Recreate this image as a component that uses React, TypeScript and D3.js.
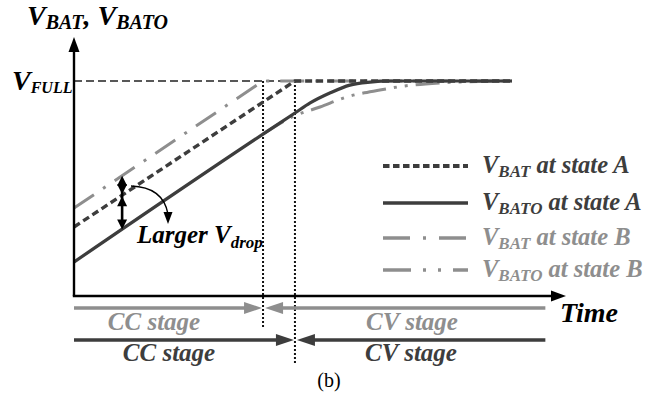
import React from "react";
import * as d3 from "d3";

// ---- data (time in arbitrary units, voltage normalised to V_FULL = 1) ----
const vbatA_t = [0, 45, 89.2];
const vbatA_v = [0.321, 1, 1];
const vbatoA_t = [0, 38.5, 45, 48.1, 52.1, 56.2, 60.3, 64.4, 89.2];
const vbatoA_v = [0.158, 0.753, 0.851, 0.898, 0.944, 0.981, 0.995, 1, 1];
const vbatB_t = [0, 38.5, 89.2];
const vbatB_v = [0.409, 1, 1];
// in the CC stage V_BATO of state B coincides with state A; drawn from the CC->CV switch on
const vbatoB_t = [38.5, 44.4, 50.1, 55.6, 62.3, 67.4, 74.5, 82.7, 89.2];
const vbatoB_v = [0.753, 0.833, 0.879, 0.926, 0.958, 0.977, 0.991, 0.998, 1];

const stageEndB = 38.5; // CC->CV for state B
const stageEndA = 45; // CC->CV for state A
const stageLineEnd = 96;
const vFull = 1;
const dropT = 9.8; // where the V_drop arrows are drawn

const legendSubs = ["BAT", "BATO", "BAT", "BATO"];
const legendTexts = [" at state A", " at state A", " at state B", " at state B"];
const stageLabels = ["CC stage", "CV stage"];

const DARK = "#3d3d3d";
const GRAY = "#8e8e8e";
const FONT = "'Liberation Serif', 'Times New Roman', serif";

const W = 658;
const H = 407;

const x = d3.scaleLinear().domain([0, 100]).range([74, 565]);
const y = d3.scaleLinear().domain([0, 1]).range([296, 81]);

const zip = (t: number[], v: number[]) => t.map((d, i) => [d, v[i]] as [number, number]);
const lineLin = d3.line<[number, number]>().x((d) => x(d[0])).y((d) => y(d[1]));
const lineCurve = d3
  .line<[number, number]>()
  .x((d) => x(d[0]))
  .y((d) => y(d[1]))
  .curve(d3.curveMonotoneX);

const series = [
  { pts: zip(vbatB_t, vbatB_v), color: GRAY, dash: "24 11 3 11", w: 3, curve: false },
  { pts: zip(vbatoB_t, vbatoB_v), color: GRAY, dash: "24 8 3 8 3 8", w: 3, curve: true },
  { pts: zip(vbatoA_t, vbatoA_v), color: DARK, dash: "", w: 3.2, curve: true },
  { pts: zip(vbatA_t, vbatA_v), color: DARK, dash: "7 4", w: 3.4, curve: false },
];
const legendStyles = [series[3], series[2], series[0], series[1]];
const legendColors = [DARK, DARK, GRAY, GRAY];

function head(tx: number, ty: number, dir: "up" | "down" | "left" | "right", len: number, half: number, fill: string) {
  let pts = "";
  if (dir === "right") pts = `${tx},${ty} ${tx - len},${ty - half} ${tx - len},${ty + half}`;
  if (dir === "left") pts = `${tx},${ty} ${tx + len},${ty - half} ${tx + len},${ty + half}`;
  if (dir === "up") pts = `${tx},${ty} ${tx - half},${ty + len} ${tx + half},${ty + len}`;
  if (dir === "down") pts = `${tx},${ty} ${tx - half},${ty - len} ${tx + half},${ty - len}`;
  return <polygon points={pts} fill={fill} />;
}

export default function App() {
  const x0 = x(0);
  const yFull = y(vFull);
  const xB = x(stageEndB);
  const xA = x(stageEndA);
  const xEnd = x(stageLineEnd);
  const dx = x(dropT);
  const yTopB = y(vbatB_v[0] + (vbatB_v[1] - vbatB_v[0]) * (dropT / vbatB_t[1]));
  const yMidA = y(vbatA_v[0] + (vbatA_v[1] - vbatA_v[0]) * (dropT / vbatA_t[1]));
  const yBot = y(vbatoA_v[0] + (vbatoA_v[1] - vbatoA_v[0]) * (dropT / vbatoA_t[1]));
  const grayY = 308;
  const darkY = 340;
  const legendY = [166, 203, 238, 270];

  return (
    <svg
      width={W}
      height={H}
      style={{ position: "absolute", left: 0, top: 0, background: "#fff" }}
      fontFamily={FONT}
    >
      <rect width={W} height={H} fill="#fff" />
      {/* V_FULL reference */}
      <line x1={x0} x2={xA} y1={yFull} y2={yFull} stroke="#222" strokeWidth={1.4} strokeDasharray="8 4" />
      {/* stage boundaries */}
      <line x1={xB} x2={xB} y1={yFull} y2={329} stroke="#111" strokeWidth={2} strokeDasharray="2 2" />
      <line x1={xA} x2={xA} y1={yFull} y2={363} stroke="#111" strokeWidth={2} strokeDasharray="2 2" />

      {series.map((s, i) => (
        <path
          key={i}
          d={(s.curve ? lineCurve : lineLin)(s.pts) || ""}
          fill="none"
          stroke={s.color}
          strokeWidth={s.w}
          strokeDasharray={s.dash}
        />
      ))}

      {/* axes */}
      <line x1={x0} x2={x0} y1={296} y2={50} stroke="#000" strokeWidth={2.4} />
      {head(x0, 37, "up", 15, 5.5, "#000")}
      <line x1={x0 - 1.2} x2={552} y1={296} y2={296} stroke="#000" strokeWidth={2.4} />
      {head(566, 296, "right", 15, 5.5, "#000")}

      {/* axis labels */}
      <text x={27} y={25} fontSize={28} fontWeight="bold" fontStyle="italic" fill="#000">
        V<tspan fontSize={20} dy={4}>BAT</tspan>
        <tspan dy={-4}>, V</tspan>
        <tspan fontSize={20} dy={4}>BATO</tspan>
      </text>
      <text x={12} y={90} fontSize={28} fontWeight="bold" fontStyle="italic" fill="#000">
        V<tspan fontSize={16} dy={3}>FULL</tspan>
      </text>
      <text x={560} y={322} fontSize={28} fontWeight="bold" fontStyle="italic" fill="#000">
        Time
      </text>

      {/* V_drop arrows */}
      <line x1={dx} x2={dx} y1={yTopB + 6} y2={yBot - 6} stroke="#000" strokeWidth={2.6} />
      {head(dx, yTopB, "up", 10, 5, "#000")}
      {head(dx, yMidA + 1, "up", 10, 5, "#000")}
      {head(dx, yMidA - 1, "down", 10, 5, "#000")}
      {head(dx, yBot, "down", 10, 5, "#000")}
      <path d="M131,186 Q163,187 168,214" fill="none" stroke="#000" strokeWidth={1.4} />
      <polygon points="168,224 163.5,212 172.5,212" fill="#000" />
      <text x={137} y={243} fontSize={25} fontWeight="bold" fontStyle="italic" fill="#000">
        Larger V<tspan fontSize={17} dy={5}>drop</tspan>
      </text>

      {/* legend */}
      {legendStyles.map((s, i) => (
        <g key={i}>
          <line
            x1={383}
            x2={468}
            y1={legendY[i]}
            y2={legendY[i]}
            stroke={s.color}
            strokeWidth={s.w + 0.4}
            strokeDasharray={i === 0 ? "6.5 3.5" : i === 2 ? "27 13 3 13" : i === 3 ? "28 12 3 12 3 12" : ""}
          />
          <text x={482} y={legendY[i] + 7} fontSize={24.5} fontWeight="bold" fontStyle="italic" fill={legendColors[i]}>
            V<tspan fontSize={17} dy={4}>{legendSubs[i]}</tspan>
            <tspan dy={-4}>{legendTexts[i]}</tspan>
          </text>
        </g>
      ))}

      {/* stage arrows: state B (gray) */}
      <line x1={x0} x2={xB - 16} y1={grayY} y2={grayY} stroke={GRAY} strokeWidth={3.4} />
      {head(xB - 1, grayY, "right", 18, 6, GRAY)}
      <line x1={xB + 18} x2={xEnd} y1={grayY} y2={grayY} stroke={GRAY} strokeWidth={3.4} />
      {head(xB + 2, grayY, "left", 18, 6, GRAY)}
      {/* state A (dark) */}
      <line x1={x0} x2={xA - 16} y1={darkY} y2={darkY} stroke={DARK} strokeWidth={3.4} />
      {head(xA - 1, darkY, "right", 18, 6, DARK)}
      <line x1={xA + 18} x2={xEnd} y1={darkY} y2={darkY} stroke={DARK} strokeWidth={3.4} />
      {head(xA + 2, darkY, "left", 18, 6, DARK)}

      <text x={154} y={330} fontSize={25} fontWeight="bold" fontStyle="italic" fill={GRAY} textAnchor="middle">
        {stageLabels[0]}
      </text>
      <text x={412} y={330} fontSize={25} fontWeight="bold" fontStyle="italic" fill={GRAY} textAnchor="middle">
        {stageLabels[1]}
      </text>
      <text x={169} y={361} fontSize={25} fontWeight="bold" fontStyle="italic" fill={DARK} textAnchor="middle">
        {stageLabels[0]}
      </text>
      <text x={411} y={361} fontSize={25} fontWeight="bold" fontStyle="italic" fill={DARK} textAnchor="middle">
        {stageLabels[1]}
      </text>

      <text x={329} y={387} fontSize={20} fill="#000" textAnchor="middle">
        (b)
      </text>
    </svg>
  );
}
